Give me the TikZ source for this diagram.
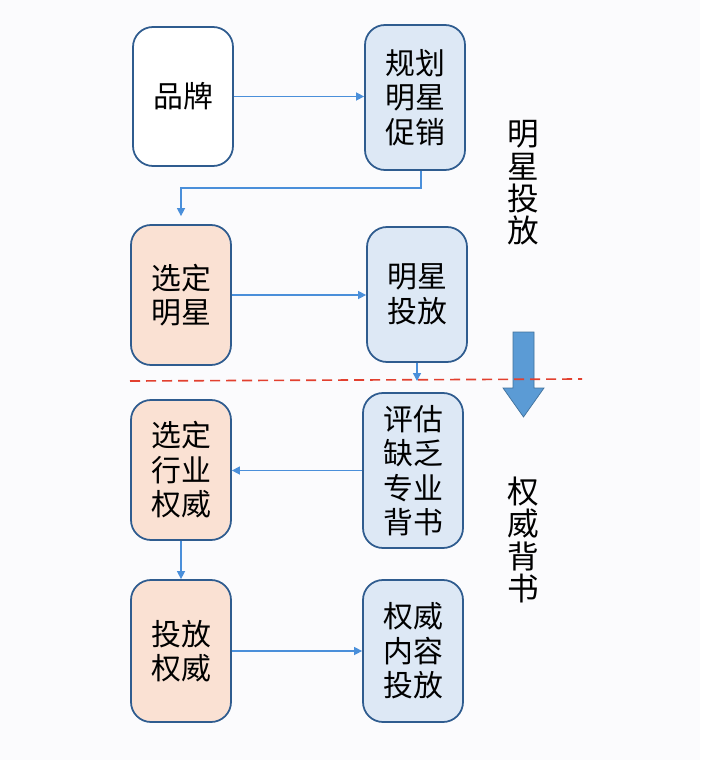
\documentclass[tikz,border=0pt]{standalone}
\usepackage{fontspec}
\usepackage{tikz}
\usetikzlibrary{
  positioning, arrows.meta, calc,
}
\newfontfamily\cjk{Noto Sans CJK SC}
\definecolor{cPaper}     {HTML}{FBFBFD}
\definecolor{cBoxLine}   {HTML}{2F5C8F}
\definecolor{cBlueFill}  {HTML}{DDE8F5}
\definecolor{cPeachFill} {HTML}{FAE1D3}
\definecolor{cFlow}      {HTML}{4A8FDA}
\definecolor{cCut}       {HTML}{E2402F}
\definecolor{cBigArrow}  {HTML}{5B9BD5}
\definecolor{cBigEdge}   {HTML}{41719C}

\begin{document}
\begin{tikzpicture}[x=0.03cm, y=-0.03cm,
    stage/.style={draw=cBoxLine, line width=1.5pt, rounded corners=0.6cm,
      minimum width=3cm, minimum height=4.2cm, align=center, inner sep=0pt,
      font=\cjk\fontsize{25.5pt}{29.5pt}\selectfont},
    flow/.style={draw=cFlow, line width=1.2pt, -{Triangle[length=2.4mm, width=2.4mm]}},
    vlabel/.style={align=center, font=\cjk\fontsize{27pt}{27.5pt}\selectfont},
  ]
  \fill[cPaper] (0,0) rectangle (700,760);
  \useasboundingbox (0,0) rectangle (700,760);

  % star stage
  \node[stage, fill=white, minimum height=4.17cm] (pinpai) at (183,96.5) {品牌};
  \node[stage, fill=cBlueFill, minimum height=4.35cm] (guihua) at (415,97.5) {规划\\明星\\促销};
  \node[stage, fill=cPeachFill, minimum height=4.2cm] (xuanxing) at (181,295) {选定\\明星};
  \node[stage, fill=cBlueFill, minimum height=4.05cm] (xingtou) at (417,294.5) {明星\\投放};

  % authority stage
  \node[stage, fill=cBlueFill, minimum height=4.65cm] (pinggu) at (413,470.5) {评估\\缺乏\\专业\\背书};
  \node[stage, fill=cPeachFill, minimum height=4.2cm] (xuanwei) at (181,470) {选定\\行业\\权威};
  \node[stage, fill=cPeachFill, minimum height=4.26cm] (touwei) at (181,651) {投放\\权威};
  \node[stage, fill=cBlueFill, minimum height=4.26cm] (neirong) at (413,651) {权威\\内容\\投放};

  \node[vlabel] (topicxing) at (523,183) {明\\星\\投\\放};
  \node[vlabel] (topicwei) at (523,540) {权\\威\\背\\书};

  % connectors
  \coordinate (cutpt) at (417,381);
  \draw[flow] (pinpai.east) -- (guihua.west |- pinpai.east);
  \draw[flow, shorten >=0.24cm] ([xshift=0.18cm]guihua.south) -- ++(0,17) -| (xuanxing.north);
  \draw[flow] (xuanxing.east) -- (xingtou.west |- xuanxing.east);
  \draw[flow] (xingtou.south) -- (cutpt);
  \draw[flow] (pinggu.west) -- (xuanwei.east |- pinggu.west);
  \draw[flow] (xuanwei.south) -- (touwei.north);
  \draw[flow] (touwei.east) -- (neirong.west |- touwei.east);

  % stage change
  \filldraw[fill=cBigArrow, draw=cBigEdge, line width=0.6pt]
    (513,332) -- (534,332) -- (534,388) -- (544,388) -- (523.5,417)
    -- (503,388) -- (513,388) -- cycle;
  \draw[cCut, line width=1.4pt, dash pattern=on 0.3cm off 0.18cm] (130,381) -- (582,379);
\end{tikzpicture}
\end{document}
